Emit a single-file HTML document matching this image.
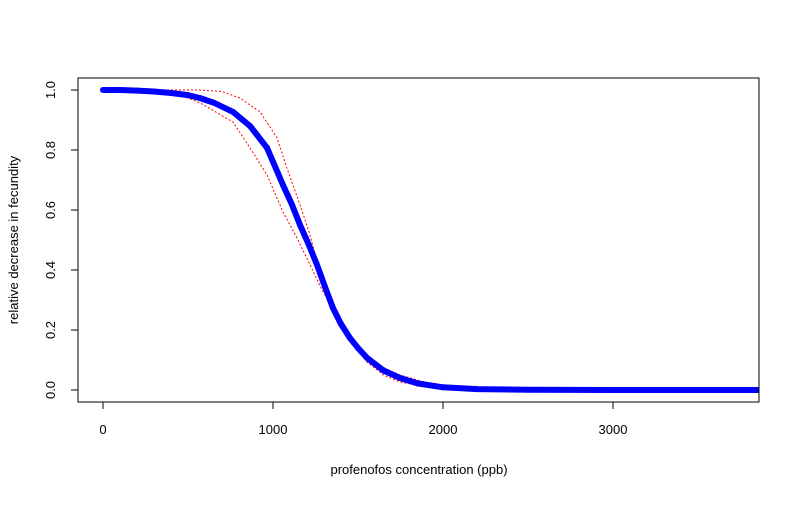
<!DOCTYPE html>
<html><head><meta charset="utf-8"><style>
body{margin:0;background:#fff}
svg text{font-family:"Liberation Sans",Arial,sans-serif;font-size:13px;fill:#000}
</style></head><body>
<svg id="chart" width="800" height="500" xmlns="http://www.w3.org/2000/svg">
<rect width="800" height="500" fill="#fff"/>
<g id="bands"></g>
<g id="fit"></g>
<rect x="78" y="78" width="681" height="324" fill="none" stroke="#000"/>
<g id="xaxis"></g>
<g id="yaxis"></g>
<text x="419" y="474" text-anchor="middle">profenofos concentration (ppb)</text>
<text transform="translate(18,240) rotate(-90)" text-anchor="middle">relative decrease in fecundity</text>
</svg>
<script>
const conc = [0,100,200,300,400,500,571,650,765,865,965,1059,1110,1159,1210,1259,1305,1353,1400,1453,1500,1553,1650,1747,1850,2000,2200,2500,3000,3500,3860];
const fitted = [1,1,0.998,0.995,0.99,0.983,0.973,0.958,0.927,0.88,0.807,0.683,0.62,0.55,0.485,0.417,0.345,0.273,0.22,0.173,0.14,0.107,0.065,0.04,0.022,0.009,0.003,0.001,0,0,0];
const upperConc = [0,300,450,571,700,806,924,1024,1082,1159,1218,1259,1318,1394,1470,1553,1650,1747,1900,2100];
const upperBand = [1,1,1,1,0.995,0.973,0.927,0.84,0.74,0.617,0.517,0.427,0.327,0.24,0.17,0.117,0.075,0.05,0.025,0.008];
const lowerConc = [0,300,450,571,765,865,965,1059,1141,1218,1294,1394,1470,1553,1650,1747,1900,2100];
const lowerBand = [1,0.995,0.985,0.957,0.893,0.807,0.717,0.593,0.507,0.417,0.327,0.24,0.155,0.093,0.05,0.027,0.01,0.003];
const xTicks = [0,1000,2000,3000];
const yTicks = [0,0.2,0.4,0.6,0.8,1.0];

const X = v => 103 + v * 0.17;
const Y = v => 390 - v * 300;
const NS = 'http://www.w3.org/2000/svg';
function mk(tag, attrs, parent){const e=document.createElementNS(NS,tag);for(const k in attrs)e.setAttribute(k,attrs[k]);parent.appendChild(e);return e;}

const bands = document.getElementById('bands');
[[upperConc,upperBand,'upper-confidence-band'],[lowerConc,lowerBand,'lower-confidence-band']].forEach(([cs,arr,nm])=>{
  const p = mk('polyline',{points:cs.map((c,i)=>X(c)+','+Y(arr[i])).join(' '),fill:'none',stroke:'#f00','stroke-width':1,'stroke-dasharray':'2,2'},bands);
  
  
});

const fit = document.getElementById('fit');
const line = mk('polyline',{points:conc.map((c,i)=>Math.min(X(c),759)+','+Y(fitted[i])).join(' '),fill:'none',stroke:'#00f','stroke-width':6,'stroke-linejoin':'round'},fit);


conc.forEach((c,i)=>{
  if (X(c) > 759) return;
  const pt = mk('circle',{cx:X(c),cy:Y(fitted[i]),r:2.5,fill:i===0?'#00f':'none',stroke:'#00f','stroke-width':1},fit);
  
  
});

const xa = document.getElementById('xaxis');
xTicks.forEach(t=>{
  const l = mk('line',{x1:X(t),x2:X(t),y1:402,y2:409,stroke:'#000'},xa);
  
  
  const tx = mk('text',{x:X(t),y:434,'text-anchor':'middle'},xa);
  tx.textContent = t;
  
  
});
const ya = document.getElementById('yaxis');
yTicks.forEach(t=>{
  const l = mk('line',{x1:71,x2:78,y1:Y(t),y2:Y(t),stroke:'#000'},ya);
  
  
  const tx = mk('text',{transform:'translate(55,'+Y(t)+') rotate(-90)','text-anchor':'middle'},ya);
  tx.textContent = t.toFixed(1);
  
  
});
</script>
</body></html>
